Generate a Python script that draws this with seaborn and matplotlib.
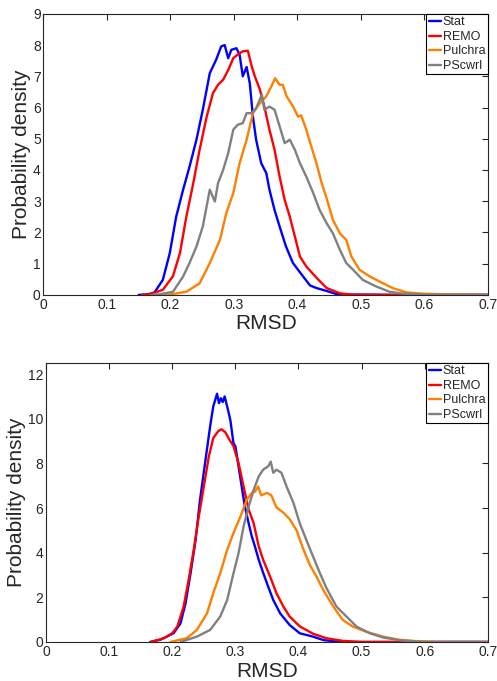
import pandas as pd
import numpy as np
import matplotlib
matplotlib.use('Agg')
import matplotlib.pyplot as plt
import seaborn as sns

#########################
########### data (RMSD, probability density)

methods = ['Stat', 'REMO', 'Pulchra', 'PScwrl']
colors = {'Stat': '#0000ff', 'REMO': '#ff0000', 'Pulchra': '#ff8000', 'PScwrl': '#808080'}

# top panel
stat_top_x = [0.15, 0.165, 0.175, 0.188, 0.199, 0.209, 0.22, 0.23, 0.241, 0.251, 0.262, 0.272, 0.28, 0.2855,
              0.291, 0.296, 0.304, 0.309, 0.314, 0.32, 0.325, 0.33, 0.335, 0.343, 0.351, 0.356, 0.364, 0.372,
              0.382, 0.393, 0.409, 0.42, 0.43, 0.44, 0.447, 0.461, 0.48, 0.55, 0.7]
stat_top_y = [0, 0.02, 0.08, 0.48, 1.34, 2.5, 3.37, 4.1, 4.97, 5.93, 7.1, 7.53, 7.96, 8.0,
              7.58, 7.85, 7.9, 7.69, 7.0, 7.3, 6.78, 5.7, 4.97, 4.22, 3.9, 3.37, 2.72, 2.19,
              1.55, 1.02, 0.59, 0.3, 0.22, 0.16, 0.12, 0.03, 0.01, 0, 0]

remo_top_x = [0.155, 0.167, 0.188, 0.204, 0.215, 0.225, 0.236, 0.246, 0.257, 0.267, 0.275, 0.283, 0.291,
              0.299, 0.306, 0.314, 0.322, 0.328, 0.333, 0.341, 0.348, 0.356, 0.364, 0.372, 0.38, 0.388,
              0.396, 0.404, 0.414, 0.43, 0.446, 0.467, 0.485, 0.55, 0.7]
remo_top_y = [0, 0.02, 0.16, 0.6, 1.34, 2.5, 3.58, 4.65, 5.7, 6.46, 6.73, 6.89, 7.2,
              7.58, 7.7, 7.8, 7.82, 7.32, 7.0, 6.57, 6.03, 5.29, 4.65, 3.79, 3.04, 2.51,
              1.87, 1.23, 0.91, 0.55, 0.22, 0.05, 0.01, 0, 0]

pulchra_top_x = [0.19, 0.199, 0.225, 0.246, 0.262, 0.278, 0.288, 0.299, 0.309, 0.32, 0.33, 0.341, 0.351,
                 0.359, 0.365, 0.372, 0.377, 0.383, 0.393, 0.401, 0.406, 0.414, 0.422, 0.43, 0.438, 0.446,
                 0.456, 0.467, 0.477, 0.485, 0.498, 0.514, 0.535, 0.551, 0.572, 0.597, 0.65, 0.7]
pulchra_top_y = [0, 0.01, 0.1, 0.37, 1.02, 1.76, 2.62, 3.26, 4.22, 4.97, 5.82, 6.14, 6.36,
                 6.68, 6.94, 6.73, 6.73, 6.36, 6.04, 5.71, 5.75, 5.29, 4.75, 4.22, 3.6, 3.1,
                 2.4, 1.97, 1.76, 1.23, 0.8, 0.59, 0.37, 0.21, 0.08, 0.04, 0.01, 0]

pscwrl_top_x = [0.17, 0.183, 0.204, 0.22, 0.23, 0.241, 0.251, 0.262, 0.27, 0.275, 0.283, 0.291, 0.299,
                0.306, 0.314, 0.32, 0.328, 0.335, 0.344, 0.348, 0.356, 0.364, 0.372, 0.38, 0.388, 0.396,
                0.404, 0.414, 0.425, 0.435, 0.446, 0.456, 0.467, 0.477, 0.488, 0.503, 0.524, 0.545,
                0.566, 0.6, 0.7]
pscwrl_top_y = [0, 0.02, 0.1, 0.59, 1.02, 1.55, 2.19, 3.37, 2.99, 3.58, 4.0, 4.54, 5.29,
                5.45, 5.5, 5.82, 5.82, 5.98, 6.41, 5.93, 6.03, 5.93, 5.4, 4.86, 4.97, 4.65,
                4.22, 3.79, 3.26, 2.72, 2.3, 1.97, 1.44, 1.02, 0.8, 0.48, 0.27, 0.1,
                0.04, 0.01, 0]

# bottom panel
stat_bot_x = [0.165, 0.181, 0.202, 0.213, 0.221, 0.229, 0.237, 0.244, 0.252, 0.26, 0.265, 0.271, 0.274,
              0.277, 0.28, 0.283, 0.287, 0.292, 0.297, 0.3, 0.305, 0.31, 0.315, 0.321, 0.326, 0.331, 0.337,
              0.344, 0.352, 0.36, 0.371, 0.386, 0.402, 0.423, 0.44, 0.47, 0.55, 0.7]
stat_bot_y = [0, 0.1, 0.39, 0.83, 1.73, 3.08, 4.58, 6.37, 8.02, 9.66, 10.56, 11.12, 10.7,
              10.92, 10.75, 11.0, 10.55, 9.95, 8.9, 8.77, 7.87, 6.97, 6.07, 5.32, 4.73, 4.28, 3.68,
              3.1, 2.48, 1.88, 1.28, 0.76, 0.39, 0.24, 0.08, 0, 0, 0]

remo_bot_x = [0.166, 0.187, 0.2, 0.208, 0.218, 0.226, 0.234, 0.242, 0.25, 0.258, 0.265, 0.273, 0.278,
              0.284, 0.289, 0.297, 0.305, 0.313, 0.321, 0.329, 0.337, 0.344, 0.355, 0.365, 0.376, 0.386,
              0.402, 0.423, 0.444, 0.47, 0.5, 0.7]
remo_bot_y = [0, 0.17, 0.39, 0.69, 1.59, 2.79, 4.13, 5.62, 6.97, 8.32, 9.14, 9.45, 9.53,
              9.4, 9.14, 8.77, 8.02, 6.97, 5.93, 5.32, 4.28, 3.68, 2.93, 2.19, 1.59, 1.14,
              0.7, 0.37, 0.17, 0.05, 0, 0]

pulchra_bot_x = [0.197, 0.223, 0.239, 0.255, 0.265, 0.276, 0.287, 0.297, 0.308, 0.318, 0.326, 0.331, 0.336,
                 0.341, 0.35, 0.357, 0.365, 0.376, 0.386, 0.397, 0.407, 0.418, 0.429, 0.439, 0.455, 0.47,
                 0.486, 0.507, 0.534, 0.56, 0.58, 0.62, 0.7]
pulchra_bot_y = [0, 0.17, 0.54, 1.28, 2.19, 3.08, 4.13, 4.88, 5.62, 6.37, 6.68, 6.73, 6.97,
                 6.57, 6.68, 6.57, 6.03, 5.8, 5.5, 5.0, 4.2, 3.45, 2.9, 2.34, 1.59, 0.99,
                 0.69, 0.46, 0.24, 0.1, 0.05, 0, 0]

pscwrl_bot_x = [0.213, 0.239, 0.26, 0.276, 0.287, 0.297, 0.305, 0.313, 0.321, 0.329, 0.337, 0.344, 0.352,
                0.356, 0.36, 0.365, 0.373, 0.381, 0.392, 0.402, 0.413, 0.423, 0.434, 0.444, 0.46, 0.476,
                0.492, 0.513, 0.534, 0.56, 0.6, 0.7]
pscwrl_bot_y = [0, 0.24, 0.54, 1.14, 1.88, 3.08, 3.98, 5.18, 6.07, 6.82, 7.42, 7.72, 7.87,
                8.08, 7.58, 7.72, 7.58, 6.97, 6.23, 5.32, 4.53, 3.83, 3.08, 2.43, 1.59, 1.14,
                0.69, 0.39, 0.2, 0.08, 0, 0]


def long_form(series):
    frames = []
    for name, xs, ys in series:
        frames.append(pd.DataFrame({'RMSD': xs, 'density': ys, 'method': name}))
    return pd.concat(frames, ignore_index=True)


df_top = long_form([('Stat', stat_top_x, stat_top_y), ('REMO', remo_top_x, remo_top_y),
                    ('Pulchra', pulchra_top_x, pulchra_top_y), ('PScwrl', pscwrl_top_x, pscwrl_top_y)])
df_bot = long_form([('Stat', stat_bot_x, stat_bot_y), ('REMO', remo_bot_x, remo_bot_y),
                    ('Pulchra', pulchra_bot_x, pulchra_bot_y), ('PScwrl', pscwrl_bot_x, pscwrl_bot_y)])

#########################
########### style
sns.set_theme(style='white')
plt.rcParams['font.family'] = ['Liberation Sans', 'DejaVu Sans']
axcol = '#262626'
plt.rcParams.update({'axes.edgecolor': axcol, 'xtick.color': axcol, 'ytick.color': axcol,
                     'axes.labelcolor': axcol, 'xtick.direction': 'in', 'ytick.direction': 'in',
                     'xtick.major.size': 4, 'ytick.major.size': 4,
                     'xtick.major.width': 0.8, 'ytick.major.width': 0.8,
                     'xtick.labelsize': 10, 'ytick.labelsize': 10})

fig = plt.figure(figsize=(4.97, 6.81), dpi=100)
ax_top = fig.add_axes([0.0875, 0.567, 0.894, 0.4126])
ax_bot = fig.add_axes([0.0926, 0.0573, 0.889, 0.4097])

for ax, df, ymax, yticks in [(ax_top, df_top, 9, np.arange(0, 10, 1)),
                             (ax_bot, df_bot, 12.5, np.arange(0, 13, 2))]:
    sns.lineplot(data=df, x='RMSD', y='density', hue='method', hue_order=methods, palette=colors,
                 estimator=None, sort=False, units='method', linewidth=1.7, ax=ax, legend=False)
    ax.set_xlim(0, 0.7)
    ax.set_ylim(0, ymax)
    ax.set_xticks(np.arange(0, 0.71, 0.1))
    ax.set_xticklabels(['0', '0.1', '0.2', '0.3', '0.4', '0.5', '0.6', '0.7'])
    ax.set_yticks(yticks)
    ax.tick_params(top=True, right=True, pad=2)
    for s in ax.spines.values():
        s.set_linewidth(0.8)
    ax.set_xlabel('RMSD', fontsize=15, labelpad=2)
    ax.set_ylabel('Probability density', fontsize=15, labelpad=1)

    handles = [plt.Line2D([], [], color=colors[m], linewidth=1.7) for m in methods]
    leg = ax.legend(handles, methods, loc='upper right', fontsize=9, frameon=True, fancybox=False,
                    edgecolor='black', framealpha=1, borderaxespad=0, handlelength=1.0,
                    handletextpad=0.1, labelspacing=0.2, borderpad=0.2)
    leg.get_frame().set_linewidth(0.8)

fig.savefig('out.png', dpi=100)
